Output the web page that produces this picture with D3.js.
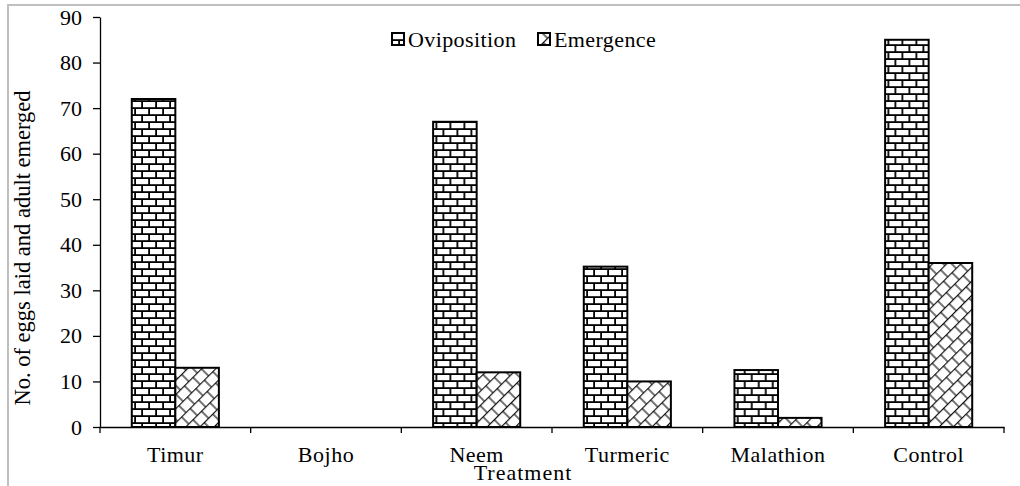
<!DOCTYPE html>
<meta charset="utf-8">
<script src="https://d3js.org/d3.v7.min.js"></script>
<style>
  body { margin: 0; background: #fff; }
  text { font-family: "Liberation Serif", "Times New Roman", serif; fill: #000; }
</style>
<div id="my_dataviz"></div>

<script>
// data
const treatments = ["Timur", "Bojho", "Neem", "Turmeric", "Malathion", "Control"];
const series = ["Oviposition", "Emergence"];
const oviposition = [72, 0, 67, 35.2, 12.5, 85];
const emergence = [13, 0, 12, 10, 2, 36];
const yTicks = [0, 10, 20, 30, 40, 50, 60, 70, 80, 90];

const W = 1020, H = 486;
const margin = { top: 17, right: 16, bottom: 59, left: 100 };
const width = W - margin.left - margin.right,
      height = H - margin.top - margin.bottom;
const FONT = '"Liberation Serif", "Times New Roman", serif';

const rows = treatments.map((t, i) => ({ name: t, Oviposition: oviposition[i], Emergence: emergence[i] }));

const svgRoot = d3.select("#my_dataviz").append("svg")
    .attr("width", W).attr("height", H);

// patterns
const defs = svgRoot.append("defs");
const brick = defs.append("pattern").attr("id", "brick")
    .attr("patternUnits", "userSpaceOnUse").attr("width", 14).attr("height", 14);
brick.append("rect").attr("width", 14).attr("height", 14).attr("fill", "#000");
brick.append("rect").attr("x", 1).attr("y", 1).attr("width", 12.2).attr("height", 5.2).attr("fill", "#fff");
brick.append("rect").attr("x", -6).attr("y", 8).attr("width", 12.2).attr("height", 5.2).attr("fill", "#fff");
brick.append("rect").attr("x", 8).attr("y", 8).attr("width", 12.2).attr("height", 5.2).attr("fill", "#fff");

const weave = defs.append("pattern").attr("id", "weave")
    .attr("patternUnits", "userSpaceOnUse").attr("width", 12).attr("height", 20)
    .attr("patternTransform", "rotate(-45)");
weave.append("rect").attr("width", 12).attr("height", 20).attr("fill", "#fff");
weave.append("line").attr("x1", 0).attr("x2", 12).attr("y1", 0.6).attr("y2", 0.6).attr("stroke", "#000").attr("stroke-width", 1.1);
weave.append("line").attr("x1", 0).attr("x2", 12).attr("y1", 10.6).attr("y2", 10.6).attr("stroke", "#000").attr("stroke-width", 1.1);
weave.append("line").attr("x1", 3).attr("x2", 3).attr("y1", 0.6).attr("y2", 10.6).attr("stroke", "#000").attr("stroke-width", 1.1);
weave.append("line").attr("x1", 9).attr("x2", 9).attr("y1", 10.6).attr("y2", 20.6).attr("stroke", "#000").attr("stroke-width", 1.1);

const fills = { Oviposition: "url(#brick)", Emergence: "url(#weave)" };

// outer frame
svgRoot.append("rect").attr("x", 8).attr("y", 5).attr("width", W).attr("height", H)
    .attr("fill", "none").attr("stroke", "#bfbfbf").attr("stroke-width", 2);

const svg = svgRoot.append("g")
    .attr("transform", "translate(" + margin.left + "," + margin.top + ")");

var x = d3.scaleBand().domain(treatments).range([0, width]).padding(0);
var x1 = d3.scaleBand().domain(series).range([0, x.bandwidth()]).paddingInner(0).paddingOuter(0.73);
var y = d3.scaleLinear().domain([0, 90]).range([height, 0]);

// Y axis
const yAxis = svg.append("g")
    .call(d3.axisLeft(y).tickValues(yTicks).tickSize(7).tickSizeOuter(0).tickPadding(11));
yAxis.attr("font-family", FONT);
yAxis.select(".domain").attr("stroke", "#000").attr("stroke-width", 1.3);
yAxis.selectAll(".tick line").attr("stroke", "#000").attr("stroke-width", 1.3);
yAxis.selectAll("text").style("font-size", "22px").style("font-family", FONT);

// bars
svg.append("g")
    .selectAll("g")
    .data(rows)
    .enter().append("g")
    .attr("transform", d => "translate(" + x(d.name) + ",0)")
    .selectAll("rect")
    .data(d => series.map(key => ({ key: key, value: d[key] })))
    .enter().append("rect")
    .attr("x", d => x1(d.key))
    .attr("y", d => y(d.value))
    .attr("width", x1.bandwidth())
    .attr("height", d => height - y(d.value))
    .attr("fill", d => fills[d.key])
    .attr("stroke", "#000")
    .attr("stroke-width", d => d.value > 0 ? 2 : 0);

// X axis
const xAxis = svg.append("g")
    .attr("transform", "translate(0," + height + ")")
    .call(d3.axisBottom(x).tickSize(0).tickSizeOuter(0).tickPadding(19));
xAxis.attr("font-family", FONT);
xAxis.select(".domain").attr("stroke", "#000").attr("stroke-width", 1.5);
xAxis.selectAll("text").style("font-size", "22px").style("font-family", FONT).style("letter-spacing", "0.5px");
const bounds = treatments.map(t => x(t)).concat([x.range()[1]]);
xAxis.selectAll(".bound").data(bounds).enter().append("line")
    .attr("x1", d => d).attr("x2", d => d).attr("y1", 0).attr("y2", 6)
    .attr("stroke", "#000").attr("stroke-width", 1.3);

// axis titles
svg.append("text")
    .attr("x", 423).attr("y", height + 53)
    .attr("text-anchor", "middle").style("font-size", "22px").style("letter-spacing", "1px")
    .text("Treatment");
svg.append("text")
    .attr("transform", "translate(" + (-70) + "," + 231 + ") rotate(-90)")
    .attr("text-anchor", "middle").style("font-size", "22.5px")
    .text("No. of eggs laid and adult emerged");

// legend
const legendPos = [{ key: "Oviposition", x: 292 }, { key: "Emergence", x: 438 }];
const lg = svg.append("g").selectAll("g").data(legendPos).enter().append("g")
    .attr("transform", d => "translate(" + d.x + "," + 16 + ")");
lg.append("rect").attr("x", 0).attr("y", 0).attr("width", 12).attr("height", 12)
    .attr("fill", d => fills[d.key]).attr("stroke", "#000").attr("stroke-width", 2);
lg.append("text").attr("x", 16).attr("y", 14).style("font-size", "22px").style("letter-spacing", "0.4px").text(d => d.key);
</script>
